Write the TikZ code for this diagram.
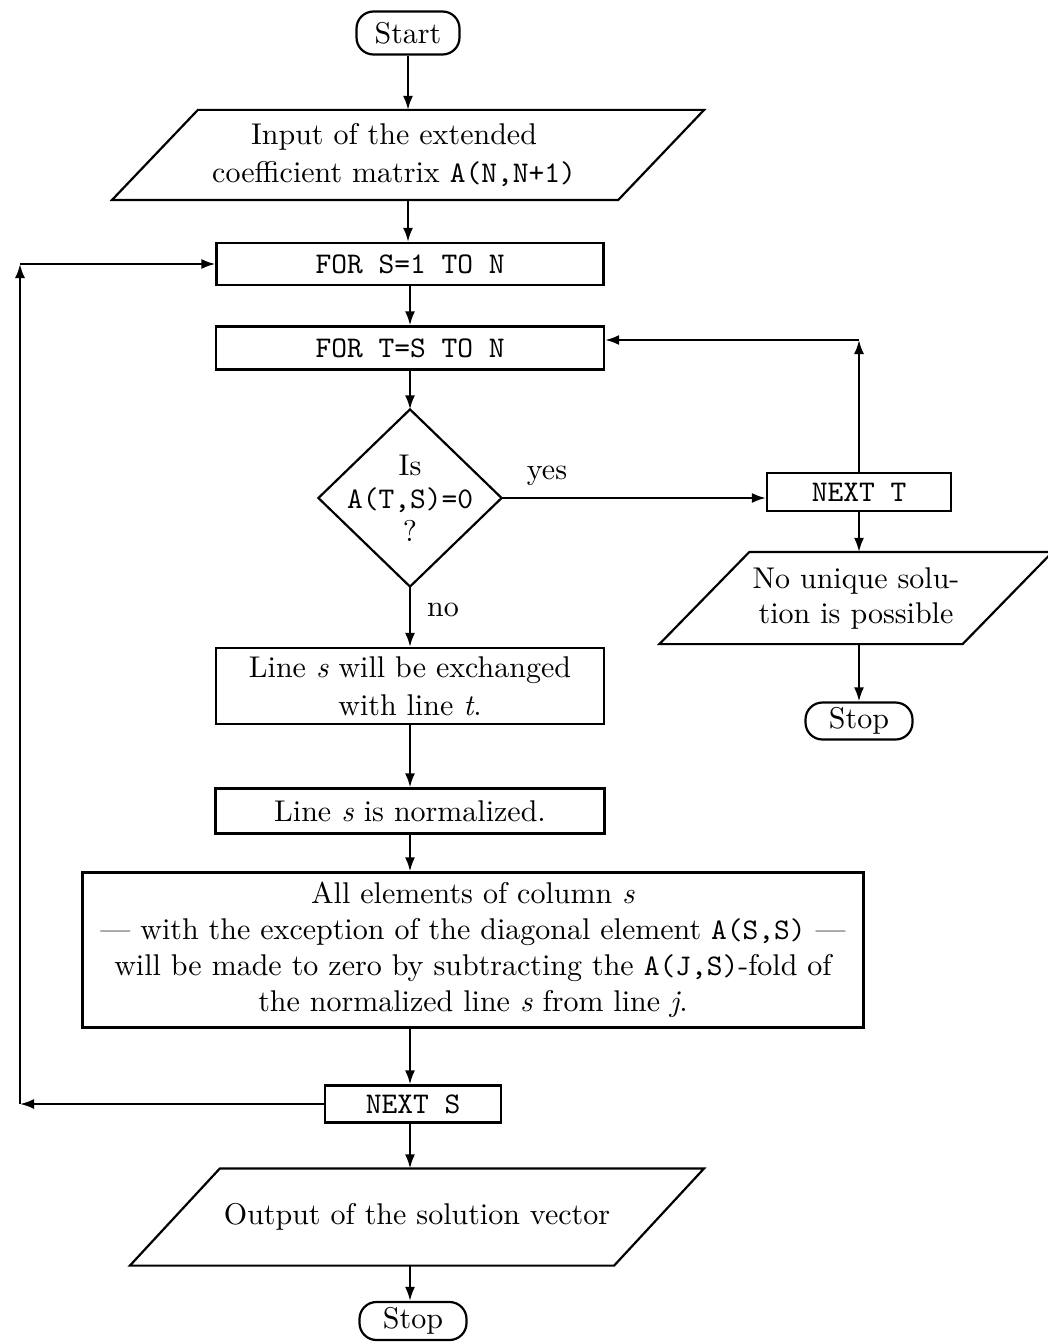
\documentclass[tikz,border=0pt]{standalone}
\usepackage{fontspec}
\setmainfont{lmroman10}[Extension=.otf, UprightFont=*-regular, ItalicFont=*-italic, BoldFont=*-bold]
\setmonofont{lmmono10}[Extension=.otf, UprightFont=*-regular]
\usetikzlibrary{arrows.meta}
\begin{document}
\begin{tikzpicture}[x=1pt,y=-1pt,
  line width=2.2pt,
  arr/.style={-{Latex[length=14pt,width=10pt]}},
  base/.style={font=\fontsize{30}{38}\selectfont, align=center, inner sep=0pt},
  term/.style={base, draw, rounded corners=17pt},
  proc/.style={base, draw, rectangle},
  lbl/.style={font=\fontsize{30}{38}\selectfont, inner sep=0pt}
]
\fill[white] (0,0) rectangle (1047,1343);
\useasboundingbox (0,0) rectangle (1047,1343);

% main column
\node[term, minimum width=103, minimum height=43] (start) at (408,33) {Start};
\node[base, minimum width=504, minimum height=88] (inp) at (394,155) {Input of the extended\\coefficient matrix \texttt{A(N,N+1)}};
\draw ([xshift=57pt]inp.north west) -- ([xshift=57pt]inp.north east) -- ([xshift=-29pt]inp.south east) -- ([xshift=-29pt]inp.south west) -- cycle;
\node[proc, minimum width=387, minimum height=42] (fors) at (410,264) {\texttt{FOR S=1 TO N}};
\node[proc, minimum width=388, minimum height=43] (fort) at (410,348) {\texttt{FOR T=S TO N}};
\node[base, font=\fontsize{30}{33}\selectfont, minimum width=181, minimum height=175] (dia) at (410,498) {Is\\\texttt{A(T,S)=0}\\?};
\draw (dia.north) -- (dia.east) -- (dia.south) -- (dia.west) -- cycle;
\node[proc, minimum width=388, minimum height=76] (exch) at (410,686) {Line \textit{s} will be exchanged\\with line \textit{t}.};
\node[proc, minimum width=389, minimum height=45] (norm) at (410,811) {Line \textit{s} is normalized.};
\node[proc, font=\fontsize{30}{36}\selectfont, minimum width=781, minimum height=155] (all) at (473,950) {All elements of column \textit{s}\\--- with the exception of the diagonal element \texttt{A(S,S)} ---\\will be made to zero by subtracting the \texttt{A(J,S)}-fold of\\the normalized line \textit{s} from line \textit{j}.};
\node[proc, minimum width=176, minimum height=37] (nexts) at (413,1104) {\texttt{NEXT S}};
\node[base, minimum width=482, minimum height=95] (out) at (417,1217) {Output of the solution vector};
\draw ([xshift=45pt]out.north west) -- ([xshift=45pt]out.north east) -- ([xshift=-45pt]out.south east) -- ([xshift=-45pt]out.south west) -- cycle;
\node[term, minimum width=107, minimum height=38] (stop2) at (413,1321) {Stop};

% right column
\node[proc, minimum width=184, minimum height=38] (nt) at (859,492) {\texttt{NEXT T}};
\node[base, font=\fontsize{30}{35}\selectfont, minimum width=301, minimum height=90] (nu) at (856,598) {No unique solu-\\tion is possible};
\draw ([xshift=45pt]nu.north west) -- ([xshift=45pt]nu.north east) -- ([xshift=-45pt]nu.south east) -- ([xshift=-45pt]nu.south west) -- cycle;
\node[term, minimum width=107, minimum height=37] (stop1) at (859,721) {Stop};

% labels
\node[lbl] (yes) at (547,476) {yes};
\node[lbl] (no) at (443,610) {no};

% connectors
\draw[arr] (start.south) -- (start.south |- inp.north);
\draw[arr] (start.south |- inp.south) -- (start.south |- fors.north);
\draw[arr] (fors) -- (fort);
\draw[arr] (fort) -- (dia.north);
\draw[arr] (dia.south) -- (exch);
\draw[arr] (exch) -- (norm);
\draw[arr] (norm) -- (norm |- all.north);
\draw[arr] (norm |- all.south) -- (norm |- nexts.north);
\draw[arr] (norm |- nexts.south) -- (norm |- out.north);
\draw[arr] (norm |- out.south) -- (norm |- stop2.north);
\draw[arr] (dia.east) -- (nt.west |- dia.east);
\draw[arr] (nt) -- (nt |- nu.north);
\draw[arr] (nt |- nu.south) -- (stop1);
\coordinate (rt) at (859,340);
\draw[arr] (nt.north) -- (rt);
\draw[arr] (rt) -- (fort.east |- rt);
\coordinate (lb) at (20,1108);
\coordinate (lt) at (20,268);
\draw[arr] (nexts.west) -- (lb |- nexts.west);
\draw[arr] (lb |- nexts.west) -- (lt |- fors.west);
\draw[arr] (lt |- fors.west) -- (fors.west);
\end{tikzpicture}
\end{document}
